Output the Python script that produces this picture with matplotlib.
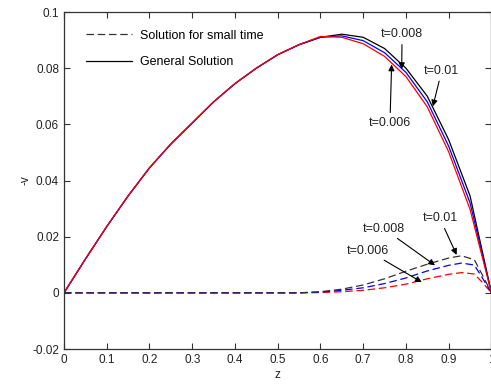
import matplotlib
matplotlib.use("Agg")
import matplotlib.pyplot as plt

plt.rcParams['font.family'] = ['Liberation Sans', 'DejaVu Sans']

# z grid
z = [0, 0.05, 0.1, 0.15, 0.2, 0.25, 0.3, 0.35, 0.4, 0.45, 0.5, 0.55,
     0.6, 0.65, 0.7, 0.75, 0.8, 0.85, 0.9, 0.95, 1.0]

# general solution for t = 0.01, 0.008, 0.006
gen_t010 = [0, 0.0120, 0.0236, 0.0345, 0.0445, 0.0530, 0.0605, 0.0680, 0.0745,
            0.0800, 0.0848, 0.0884, 0.0910, 0.0921, 0.0910, 0.0870, 0.0800,
            0.0700, 0.0545, 0.0345, 0.0]
gen_t008 = [0, 0.0120, 0.0236, 0.0345, 0.0445, 0.0530, 0.0605, 0.0680, 0.0745,
            0.0800, 0.0848, 0.0883, 0.0910, 0.0915, 0.0898, 0.0855, 0.0785,
            0.0680, 0.0522, 0.0320, 0.0]
gen_t006 = [0, 0.0120, 0.0236, 0.0345, 0.0445, 0.0530, 0.0605, 0.0680, 0.0745,
            0.0800, 0.0848, 0.0884, 0.0913, 0.0910, 0.0887, 0.0842, 0.0770,
            0.0662, 0.0502, 0.0297, 0.0]

# solution for small time
zs = [0, 0.1, 0.2, 0.3, 0.4, 0.5, 0.55, 0.6, 0.65, 0.7, 0.75, 0.8, 0.85,
      0.9, 0.93, 0.96, 0.98, 1.0]
small_t010 = [0, 0, 0, 0, 0, 0, 0, 0.0004, 0.0013, 0.0028, 0.0050, 0.0077,
              0.0102, 0.0124, 0.0132, 0.0118, 0.0060, 0.0]
small_t008 = [0, 0, 0, 0, 0, 0, 0, 0.0003, 0.0009, 0.0018, 0.0033, 0.0053,
              0.0078, 0.0098, 0.0106, 0.0099, 0.0050, 0.0]
small_t006 = [0, 0, 0, 0, 0, 0, 0, 0.0001, 0.0004, 0.0009, 0.0018, 0.0031,
              0.0050, 0.0066, 0.0072, 0.0067, 0.0035, 0.0]

xticks = [0, 0.1, 0.2, 0.3, 0.4, 0.5, 0.6, 0.7, 0.8, 0.9, 1.0]
xticklabels = ['0', '0.1', '0.2', '0.3', '0.4', '0.5', '0.6', '0.7', '0.8', '0.9', '1']
yticks = [-0.02, 0, 0.02, 0.04, 0.06, 0.08, 0.1]
yticklabels = ['-0.02', '0', '0.02', '0.04', '0.06', '0.08', '0.1']

fig = plt.figure(figsize=(4.91, 3.85), dpi=100)
ax = fig.add_axes([0.1303, 0.0935, 0.8706, 0.8753])

lw = 0.9
dash = (6, 3)
# small time (dashed)
ax.plot(zs, small_t006, color='red', lw=lw, dashes=dash)
ax.plot(zs, small_t008, color='blue', lw=lw, dashes=dash)
ax.plot(zs, small_t010, color='#333333', lw=lw, dashes=dash,
        label='Solution for small time')
# general solution
ax.plot(z, gen_t010, color='black', lw=lw, label='General Solution')
ax.plot(z, gen_t008, color='blue', lw=lw)
ax.plot(z, gen_t006, color='red', lw=lw)

arrow = dict(arrowstyle='-|>', color='black', lw=0.8, mutation_scale=9,
             shrinkA=1, shrinkB=0)
notes = [('t=0.008', (0.790, 0.0797), (0.791, 0.0920)),
         ('t=0.01', (0.863, 0.0664), (0.8835, 0.0790)),
         ('t=0.006', (0.7665, 0.0813), (0.7626, 0.0606)),
         ('t=0.01', (0.9186, 0.0135), (0.8795, 0.0265)),
         ('t=0.008', (0.868, 0.0098), (0.7485, 0.0228)),
         ('t=0.006', (0.837, 0.0038), (0.711, 0.0150))]
for txt, xy, xytext in notes:
    ax.annotate(txt, xy=xy, xytext=xytext, ha='center', va='center',
                fontsize=9, color='#222222', arrowprops=arrow)

ax.set_xlim(0, 1)
ax.set_ylim(-0.02, 0.1)
ax.set_xticks(xticks)
ax.set_xticklabels(xticklabels)
ax.set_yticks(yticks)
ax.set_yticklabels(yticklabels)
ax.tick_params(direction='in', top=True, right=True, length=4, width=0.8,
               labelsize=8.5, labelcolor='#222222', color='#333333')
for s in ax.spines.values():
    s.set_color('#333333')
    s.set_linewidth(0.9)
ax.set_xlabel('z', fontsize=8.5, color='#222222', labelpad=2)
ax.set_ylabel('-v', fontsize=8.5, color='#222222')
ax.yaxis.set_label_coords(-0.075, 0.5)

ax.legend(loc='upper left', bbox_to_anchor=(0.052, 0.948), frameon=False,
          fontsize=9, handlelength=3.7, handletextpad=0.6, labelspacing=1.15,
          borderpad=0, borderaxespad=0)

fig.savefig('out.png', dpi=100)
